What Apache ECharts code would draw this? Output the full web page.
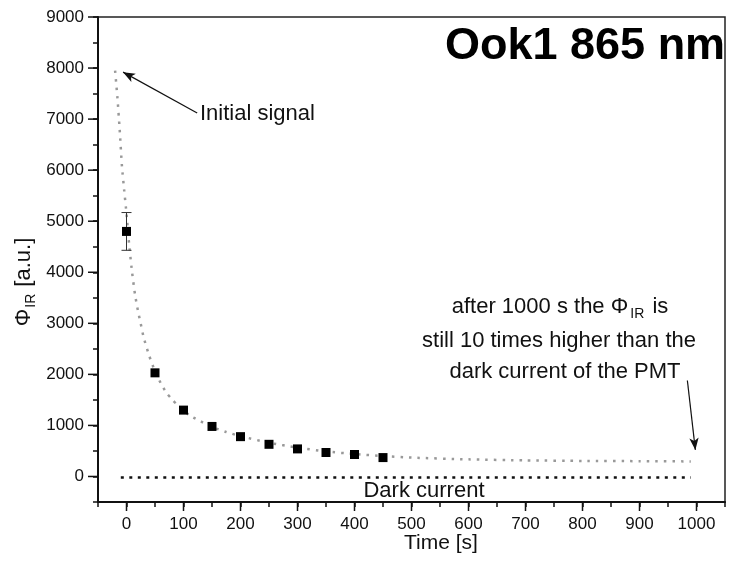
<!DOCTYPE html>
<html>
<head>
<meta charset="utf-8">
<script src="https://cdn.jsdelivr.net/npm/echarts@6/dist/echarts.min.js"></script>
<style>
  html, body { margin: 0; padding: 0; background: #fff; }
  #chart { width: 730px; height: 572px; }
</style>
</head>
<body>
<div id="chart"></div>
<script>
// measured points (squares)
var timeS = [0, 50, 100, 150, 200, 250, 300, 350, 400, 450];
var phiIR = [4800, 2030, 1300, 980, 780, 630, 540, 470, 430, 370];
// error bar on first point
var errX = [0];
var errLow = [4430];
var errHigh = [5170];
// fitted curve (grey dotted)
var fitX = [-20, -16, -12, -8, -4, 0, 5, 10, 15, 20, 25, 30, 40, 50, 60, 70, 80, 90, 100, 110, 125, 150, 175, 200, 250, 300, 350, 400, 450, 500, 600, 700, 800, 900, 990];
var fitY = [7950, 7430, 6800, 6080, 5600, 5150, 4500, 3980, 3560, 3250, 2990, 2730, 2360, 2060, 1830, 1640, 1510, 1390, 1300, 1200, 1110, 970, 870, 790, 660, 565, 490, 440, 400, 370, 335, 315, 305, 300, 295];
// dark current level
var darkX = [-10, 990];
var darkY = [-20, -20];
// tick labels
var xLabels = [0, 100, 200, 300, 400, 500, 600, 700, 800, 900, 1000];
var yLabels = [0, 1000, 2000, 3000, 4000, 5000, 6000, 7000, 8000, 9000];

var FONT = 'Liberation Sans, Arial, sans-serif';

var chart = echarts.init(document.getElementById('chart'));

function zip(a, b) {
  return a.map(function (v, i) { return [v, b[i]]; });
}

chart.setOption({
  animation: false,
  grid: {
    left: 98, right: 5, top: 17, bottom: 70,
    show: true, borderColor: '#222', borderWidth: 1.5
  },
  xAxis: {
    type: 'value', min: -50, max: 1050, interval: 50,
    axisLine: { show: true, onZero: false, lineStyle: { color: '#111', width: 2 } },
    axisTick: { show: true, length: 5, lineStyle: { color: '#111', width: 1.5 } },
    axisLabel: {
      margin: 14, color: '#111', fontFamily: FONT, fontSize: 17,
      customValues: xLabels,
      formatter: function (v) { return String(v); }
    },
    splitLine: { show: false }
  },
  yAxis: {
    type: 'value', min: -500, max: 9000, interval: 500,
    axisLine: { show: true, onZero: false, lineStyle: { color: '#111', width: 2 } },
    axisTick: { show: true, length: 5, lineStyle: { color: '#111', width: 1.5 } },
    axisLabel: {
      margin: 14, color: '#111', fontFamily: FONT, fontSize: 17,
      customValues: yLabels,
      formatter: function (v) { return String(v); }
    },
    splitLine: { show: false }
  },
  series: [
    {
      // long ticks at labelled values
      type: 'custom',
      silent: true,
      z: 1,
      data: [0],
      renderItem: function (params, api) {
        var kids = [];
        xLabels.forEach(function (v) {
          var p = api.coord([v, -500]);
          kids.push({ type: 'line', shape: { x1: p[0], y1: p[1], x2: p[0], y2: p[1] + 9 }, style: { stroke: '#111', lineWidth: 1.5 } });
        });
        yLabels.forEach(function (v) {
          var p = api.coord([-50, v]);
          kids.push({ type: 'line', shape: { x1: p[0], y1: p[1], x2: p[0] - 10, y2: p[1] }, style: { stroke: '#111', lineWidth: 1.5 } });
        });
        return { type: 'group', children: kids };
      }
    },
    {
      name: 'fit',
      type: 'line',
      data: zip(fitX, fitY),
      showSymbol: false,
      smooth: 0.2,
      lineStyle: { color: '#999', width: 2.5, type: [2.5, 6] },
      z: 2
    },
    {
      name: 'dark',
      type: 'line',
      data: zip(darkX, darkY),
      showSymbol: false,
      lineStyle: { color: '#111', width: 2.5, type: [3, 5.5] },
      z: 2
    },
    {
      name: 'err',
      type: 'custom',
      data: errX.map(function (x, i) { return [x, errLow[i], errHigh[i]]; }),
      renderItem: function (params, api) {
        var lo = api.coord([api.value(0), api.value(1)]);
        var hi = api.coord([api.value(0), api.value(2)]);
        var w = 5;
        var st = { stroke: '#333', lineWidth: 1 };
        return {
          type: 'group',
          children: [
            { type: 'line', shape: { x1: lo[0], y1: lo[1], x2: hi[0], y2: hi[1] }, style: st },
            { type: 'line', shape: { x1: lo[0] - w, y1: lo[1], x2: lo[0] + w, y2: lo[1] }, style: st },
            { type: 'line', shape: { x1: hi[0] - w, y1: hi[1], x2: hi[0] + w, y2: hi[1] }, style: st }
          ]
        };
      },
      z: 3
    },
    {
      name: 'data',
      type: 'scatter',
      data: zip(timeS, phiIR),
      symbol: 'rect',
      symbolSize: 9,
      itemStyle: { color: '#000', opacity: 1 },
      z: 4
    },
    {
      // annotation arrows
      type: 'line',
      data: [],
      markLine: {
        silent: true,
        symbol: ['none', 'arrow'],
        symbolSize: [7, 12],
        label: { show: false },
        lineStyle: { color: '#111', width: 1.2, type: 'solid' },
        data: [
          [{ coord: [124, 7120] }, { coord: [-6, 7920] }],
          [{ coord: [984, 1880] }, { coord: [998, 520] }]
        ]
      }
    }
  ],
  graphic: [
    {
      type: 'text', left: 445, top: 24,
      style: { text: 'Ook1 865 nm', fontFamily: FONT, fontWeight: 'bold', fontSize: 45, fill: '#000' }
    },
    {
      type: 'text', x: 200, y: 114,
      style: { text: 'Initial signal', fontFamily: FONT, fontSize: 22, fill: '#111', textVerticalAlign: 'middle' }
    },
    {
      type: 'text', x: 424, y: 491,
      style: { text: 'Dark current', fontFamily: FONT, fontSize: 22, fill: '#111', textAlign: 'center', textVerticalAlign: 'middle' }
    },
    {
      type: 'text', x: 441, y: 543,
      style: { text: 'Time [s]', fontFamily: FONT, fontSize: 21, fill: '#111', textAlign: 'center', textVerticalAlign: 'middle' }
    },
    {
      type: 'text', x: 560, y: 307,
      style: {
        text: '{t|after 1000 s the Φ}{sub|IR}{t| is}',
        textAlign: 'center', textVerticalAlign: 'middle',
        rich: {
          t: { fontFamily: FONT, fontSize: 22, fill: '#111' },
          sub: { fontFamily: FONT, fontSize: 14, fill: '#111', padding: [14, 2, 0, 2] }
        }
      }
    },
    {
      type: 'text', x: 559, y: 341,
      style: { text: 'still 10 times higher than the', fontFamily: FONT, fontSize: 22, fill: '#111', textAlign: 'center', textVerticalAlign: 'middle' }
    },
    {
      type: 'text', x: 565, y: 372,
      style: { text: 'dark current of the PMT', fontFamily: FONT, fontSize: 22, fill: '#111', textAlign: 'center', textVerticalAlign: 'middle' }
    },
    {
      type: 'text', x: 24, y: 282, rotation: Math.PI / 2,
      style: {
        text: '{t|Φ}{sub|IR}{t| [a.u.]}',
        textAlign: 'center', textVerticalAlign: 'middle',
        rich: {
          t: { fontFamily: FONT, fontSize: 22, fill: '#111' },
          sub: { fontFamily: FONT, fontSize: 14, fill: '#111', padding: [14, 1, 0, 1] }
        }
      }
    }
  ]
});
</script>
</body>
</html>
